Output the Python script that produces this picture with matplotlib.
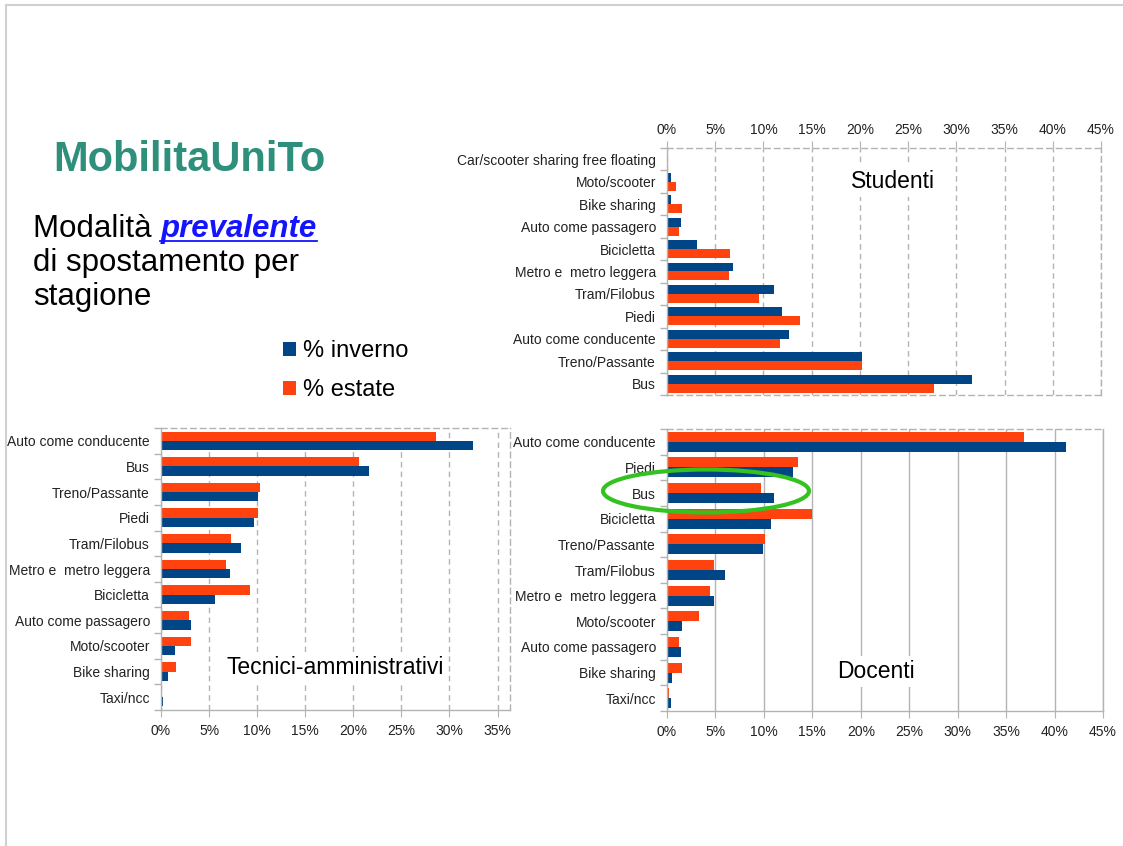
import matplotlib
matplotlib.use("Agg")
import matplotlib.pyplot as plt
from matplotlib.patches import Ellipse
from matplotlib.ticker import PercentFormatter, FixedLocator
import numpy as np

plt.rcParams['font.family'] = ['Liberation Sans', 'DejaVu Sans']

BLU = '#004586'
ARANCIO = '#ff420e'
GRIGIO = '#b3b3b3'

# Studenti
stud_cat = ["Car/scooter sharing free floating", "Moto/scooter", "Bike sharing",
            "Auto come passagero", "Bicicletta", "Metro e  metro leggera",
            "Tram/Filobus", "Piedi", "Auto come conducente", "Treno/Passante", "Bus"]
stud_inv = [0.15, 0.45, 0.45, 1.5, 3.15, 6.85, 11.1, 11.95, 12.6, 20.25, 31.65]
stud_est = [0.15, 0.95, 1.55, 1.25, 6.55, 6.45, 9.5, 13.8, 11.75, 20.25, 27.7]

# Tecnici-amministrativi
tec_cat = ["Auto come conducente", "Bus", "Treno/Passante", "Piedi", "Tram/Filobus",
           "Metro e  metro leggera", "Bicicletta", "Auto come passagero",
           "Moto/scooter", "Bike sharing", "Taxi/ncc"]
tec_inv = [32.4, 21.6, 10.1, 9.7, 8.3, 7.2, 5.6, 3.1, 1.45, 0.7, 0.2]
tec_est = [28.6, 20.6, 10.3, 10.1, 7.3, 6.75, 9.25, 2.9, 3.1, 1.55, 0.0]

# Docenti
doc_cat = ["Auto come conducente", "Piedi", "Bus", "Bicicletta", "Treno/Passante",
           "Tram/Filobus", "Metro e  metro leggera", "Moto/scooter",
           "Auto come passagero", "Bike sharing", "Taxi/ncc"]
doc_inv = [41.2, 13.05, 11.0, 10.7, 9.9, 5.95, 4.9, 1.5, 1.4, 0.55, 0.45]
doc_est = [36.8, 13.5, 9.75, 14.95, 10.15, 4.8, 4.4, 3.35, 1.2, 1.5, 0.25]

W, H = 1123, 846
fig = plt.figure(figsize=(W / 100, H / 100), dpi=100)


def box(left, top, right, bottom):
    # rettangolo in pixel -> coordinate figura
    return [left / W, 1 - bottom / H, (right - left) / W, (bottom - top) / H]


def grafico(rect, cat, inv, est, xmax, ticks_max, hbar, inverno_sopra,
            asse_sopra, griglia):
    ax = fig.add_axes(rect)
    y = np.arange(len(cat))
    if inverno_sopra:
        b1 = ax.barh(y - hbar / 2, inv, height=hbar, color=BLU, label='% inverno')
        b2 = ax.barh(y + hbar / 2, est, height=hbar, color=ARANCIO, label='% estate')
    else:
        b2 = ax.barh(y - hbar / 2, est, height=hbar, color=ARANCIO, label='% estate')
        b1 = ax.barh(y + hbar / 2, inv, height=hbar, color=BLU, label='% inverno')
    ax.set_ylim(len(cat) - 0.5, -0.5)
    ax.set_xlim(0, xmax)
    ax.set_yticks(y)
    ax.set_yticklabels(cat, fontsize=10, color='#222222')
    ax.yaxis.set_minor_locator(FixedLocator(np.arange(-0.5, len(cat), 1)))
    ax.tick_params(axis='y', which='major', length=0, pad=8)
    ax.tick_params(axis='y', which='minor', length=5, color=GRIGIO, width=1)
    ax.xaxis.set_major_locator(FixedLocator(np.arange(0, ticks_max + 1, 5)))
    ax.xaxis.set_major_formatter(PercentFormatter(xmax=100, decimals=0))
    ax.tick_params(axis='x', length=5, color=GRIGIO, labelsize=10,
                   labelcolor='#222222', pad=3 if asse_sopra else 5)
    if asse_sopra:
        ax.xaxis.tick_top()
    ax.set_axisbelow(True)
    ax.grid(axis='x', color=GRIGIO, linewidth=1, linestyle=griglia)
    for s in ax.spines.values():
        s.set_color(GRIGIO)
        s.set_linewidth(1)
        s.set_linestyle((0, (4, 3)))
    ax.spines['left'].set_linestyle('-')
    if not asse_sopra:
        ax.spines['bottom'].set_linestyle('-')
    return ax, b1, b2


def etichetta(ax, x, y, testo):
    ax.text(x, y, testo, transform=ax.transAxes, fontsize=16.5, ha='center',
            va='center', bbox=dict(facecolor='white', edgecolor='none', pad=3))


ax_s, inv_bars, est_bars = grafico(box(667, 148, 1101, 395), stud_cat, stud_inv, stud_est,
                                   45, 45, 0.4, True, True, (0, (4, 3)))
etichetta(ax_s, 0.52, 0.865, 'Studenti')

ax_t, _, _ = grafico(box(161, 428, 510, 710), tec_cat, tec_inv, tec_est,
                     36.3, 35, 0.36, False, False, (0, (4, 3)))
etichetta(ax_t, 0.5, 0.15, 'Tecnici-amministrativi')

ax_d, _, _ = grafico(box(667, 429, 1103, 711), doc_cat, doc_inv, doc_est,
                     45, 45, 0.39, False, False, '-')
ax_d.spines['right'].set_linestyle('-')
etichetta(ax_d, 0.48, 0.14, 'Docenti')

# cerchio verde attorno a "Bus" dei docenti
fig.add_artist(Ellipse((706 / W, 1 - 491 / H), 206 / W, 43 / H,
                       transform=fig.transFigure, fill=False,
                       edgecolor='#33c21f', linewidth=3))

# bordo della pagina
fig.add_artist(plt.Line2D([5.5 / W, 5.5 / W], [0, 1 - 5.5 / H],
                          transform=fig.transFigure, color='#d0d0d0', linewidth=1.5))
fig.add_artist(plt.Line2D([5.5 / W, 1], [1 - 5.5 / H, 1 - 5.5 / H],
                          transform=fig.transFigure, color='#d0d0d0', linewidth=1.5))

# titolo e sottotitolo
fig.text(53 / W, 1 - 160 / H, 'MobilitaUniTo', fontsize=30, fontweight='bold',
         color='#2e8f7a', va='center', ha='left')

renderer = fig.canvas.get_renderer()
t1 = fig.text(33 / W, 1 - 237 / H, 'Modalità ', fontsize=22.5, va='baseline')
bb = t1.get_window_extent(renderer)
t2 = fig.text(bb.x1 / W, 1 - 237 / H, 'prevalente', fontsize=22.5, va='baseline',
              fontweight='bold', style='italic', color='#1414ff')
bb2 = t2.get_window_extent(renderer)
fig.add_artist(plt.Line2D([bb2.x0 / W, bb2.x1 / W], [1 - 241 / H, 1 - 241 / H],
                          transform=fig.transFigure, color='#1414ff', linewidth=1.3))
fig.text(33 / W, 1 - 271 / H, 'di spostamento per', fontsize=22.5, va='baseline')
fig.text(33 / W, 1 - 305 / H, 'stagione', fontsize=22.5, va='baseline')

# legenda
fig.legend(handles=[inv_bars, est_bars], loc='upper left',
           bbox_to_anchor=(283 / W, 1 - 340 / H), frameon=False, fontsize=17,
           handlelength=0.55, handleheight=0.55, handletextpad=0.3,
           labelspacing=0.72, borderpad=0, borderaxespad=0)

fig.savefig('out.png', dpi=100)
